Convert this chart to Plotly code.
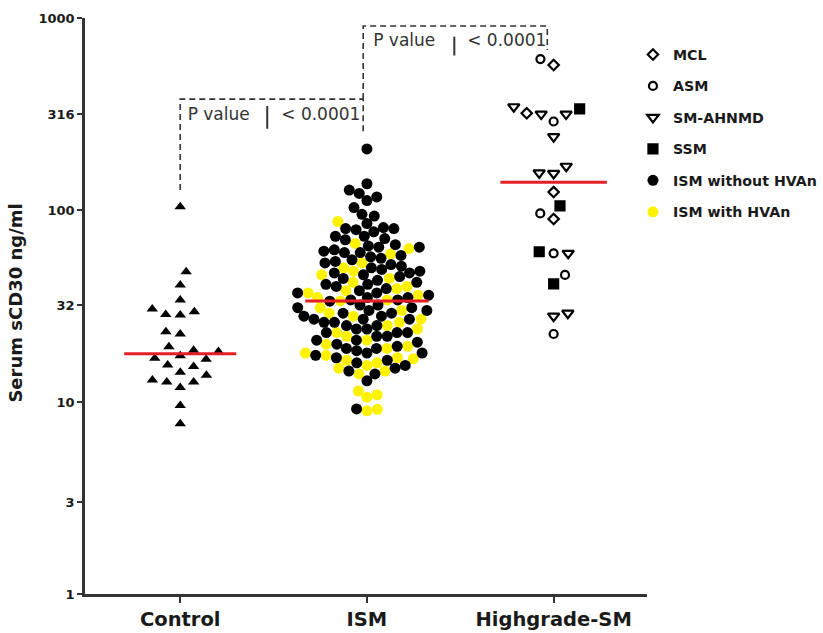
import math
import numpy as np
import plotly.graph_objects as go

# ---------------- data ----------------
categories = ["Control", "ISM", "Highgrade-SM"]

control_vals = [104, 47.7, 40.7, 34, 29.5, 28.4, 28.6, 30.5, 23.2, 22.6, 19.4, 18.3, 18.6,
                16.9, 16.7, 17.4, 15.6, 15.3, 13.8, 14.3, 12.7, 11.9, 12.7, 13.0, 9.6, 7.7]

ism_without_hvan = [208,
                    137, 127, 122, 117, 112, 103, 95, 93, 85,
                    81, 80, 80, 79, 77, 73, 73, 71, 70,
                    66, 65, 64, 64, 62, 61, 60, 60, 58, 57, 56,
                    55, 54, 53, 52, 51, 50, 49, 48, 47, 47, 46, 45, 44,
                    43, 42, 41, 41, 40, 39, 38, 37, 37, 36, 35, 35, 34, 34,
                    33.5, 32, 32, 31, 31, 30, 30, 29, 29, 28, 28, 27, 27, 27,
                    26, 26, 25, 25, 24, 24, 23, 23, 23, 22, 22, 21, 21,
                    20.5, 20, 19.5, 19, 19, 18.5, 18, 18, 17.5, 17,
                    16.5, 16, 15.5, 15, 14.5, 14,
                    12.9, 9.2]

ism_with_hvan = [87, 67, 63, 59, 53, 50, 48, 46, 44, 42, 40, 39, 38, 37, 36, 35, 34,
                 33.6, 31, 30, 29, 28, 27,
                 26, 25, 24, 23, 22, 21,
                 20, 19.5, 19, 18, 17.5, 17, 16.8,
                 16.5, 16, 15.5, 15, 14.5, 14,
                 11.4, 10.9, 10.6, 9.16, 9.0]

hg_mcl = [569, 319, 124, 89.8]
hg_asm = [611, 289, 96, 59.5, 45.9, 22.6]
hg_sm_ahnmd = [316, 345, 316, 241, 169, 155, 156, 59.5, 29, 28]
hg_ssm = [336, 105, 60.6, 41.2]

y_tick_vals = [1, 3, 10, 32, 100, 316, 1000]
y_tick_text = ["1", "3", "10", "32", "100", "316", "1000"]

p_label = "P value"
p_result = "< 0.0001"

# ---------------- layout constants ----------------
W, H = 823, 633
ML, MR, MT, MB = 85, 176, 18, 39
X_RANGE = [0.49, 3.5]
PX_X = (W - ML - MR) / (X_RANGE[1] - X_RANGE[0])
PX_DEC = (H - MT - MB) / 3.0

FONT = "DejaVu Sans"
INK = "#1a1a1a"
RED = "#e41e26"
YELLOW = "#fff200"


def swarm_offsets(vals, d_px, mix=False):
    """Beeswarm layout: returns x offsets (data units) so markers do not overlap."""
    vals = np.asarray(vals, float)
    py = np.log10(vals) * PX_DEC
    if mix:
        # processing order only: break near-ties so that groups interleave
        key = py + np.array([((i * 7) % 5 - 2) * 0.9 for i in range(len(vals))])
    else:
        key = py
    order = np.argsort(key, kind="stable")
    placed = []
    out = np.zeros(len(vals))
    for n, i in enumerate(order):
        y = py[i]
        near = [(x, yy) for x, yy in placed if abs(yy - y) < d_px]
        cands = [0.0]
        for x, yy in near:
            dx = math.sqrt(d_px ** 2 - (yy - y) ** 2)
            cands += [x + dx, x - dx]
        sgn = 1 if n % 2 else -1
        cands.sort(key=lambda c: (round(abs(c), 6), sgn * c))
        for c in cands:
            if all((c - x) ** 2 + (yy - y) ** 2 >= d_px ** 2 - 1e-6 for x, yy in near):
                out[i] = c
                break
        placed.append((out[i], y))
    return out / PX_X


fig = go.Figure()

# ---- Control ----
cx = 1 + swarm_offsets(control_vals, 14.5)
fig.add_trace(go.Scatter(x=cx, y=control_vals, mode="markers", showlegend=False,
                         marker=dict(symbol="triangle-up", size=10, color="#000"),
                         hoverinfo="y"))

# ---- ISM ----
ism_all = ism_without_hvan + ism_with_hvan
ism_off = swarm_offsets(ism_all, 10.5, mix=True)
nb = len(ism_without_hvan)
fig.add_trace(go.Scatter(x=2 + ism_off[nb:], y=ism_with_hvan, mode="markers",
                         name="ISM with HVAn", legendrank=6, legendgroup="g6",
                         marker=dict(symbol="circle", size=11, color=YELLOW)))
fig.add_trace(go.Scatter(x=2 + ism_off[:nb], y=ism_without_hvan, mode="markers",
                         name="ISM without HVAn", legendrank=5, legendgroup="g5",
                         marker=dict(symbol="circle", size=11, color="#000")))

# ---- Highgrade ----
hg_groups = [("MCL", hg_mcl, "diamond-open", 8, 1),
             ("ASM", hg_asm, "circle-open", 8, 2),
             ("SM-AHNMD", hg_sm_ahnmd, "triangle-down-open", 10, 3),
             ("SSM", hg_ssm, "square", 9, 4)]
hg_all = [v for _, vals, _, _, _ in hg_groups for v in vals]
hg_off = swarm_offsets(hg_all, 14.5)
k = 0
for name, vals, sym, sz, rank in hg_groups:
    off = hg_off[k:k + len(vals)]
    k += len(vals)
    fig.add_trace(go.Scatter(x=3 + off, y=vals, mode="markers", name=name,
                             legendrank=rank, legendgroup="g%d" % rank,
                             marker=dict(symbol=sym, size=sz, color="#000",
                                         line=dict(color="#000", width=2.2))))

# ---- medians ----
for center, vals, hw in [(1, control_vals, 0.3), (2, ism_all, 0.33), (3, hg_all, 0.285)]:
    m = float(np.median(vals))
    fig.add_trace(go.Scatter(x=[center - hw, center + hw], y=[m, m], mode="lines",
                             showlegend=False, hoverinfo="skip",
                             line=dict(color=RED, width=3)))

# ---- significance brackets ----
dash_line = dict(color="#333", width=1.6, dash="6px,4px")
brackets = [
    dict(xs=[1, 1, 1.98, 1.98], ys=[127, 378, 378, 252]),
    dict(xs=[1.98, 1.98, 2.966, 2.966], ys=[378, 908, 908, 681]),
]
for b in brackets:
    fig.add_trace(go.Scatter(x=b["xs"], y=b["ys"], mode="lines", showlegend=False,
                             hoverinfo="skip", line=dash_line))

labels = [
    dict(xl=1.206, xb=1.466, xr=1.753, y=309, ybar=[265, 348]),
    dict(xl=2.2, xb=2.468, xr=2.749, y=750, ybar=[638, 800]),
]
for lb in labels:
    fig.add_trace(go.Scatter(x=[lb["xl"], lb["xr"]], y=[lb["y"], lb["y"]], mode="text",
                             text=[p_label, p_result], showlegend=False, hoverinfo="skip",
                             textfont=dict(family=FONT, size=17, color="#333")))
    fig.add_trace(go.Scatter(x=[lb["xb"], lb["xb"]], y=lb["ybar"], mode="lines",
                             showlegend=False, hoverinfo="skip",
                             line=dict(color="#333", width=2)))

fig.add_annotation(text="Serum sCD30 ng/ml", xref="paper", yref="paper", x=0, y=0.505,
                   xanchor="right", yanchor="middle", textangle=-90, xshift=-57,
                   showarrow=False, font=dict(family=FONT, size=18, color=INK, weight="bold"))

fig.update_layout(
    width=W, height=H,
    margin=dict(l=ML, r=MR, t=MT, b=MB, autoexpand=False),
    paper_bgcolor="white", plot_bgcolor="white",
    font=dict(family=FONT, color=INK),
    legend=dict(x=0.975, y=0.964, xanchor="left", yanchor="top",
                font=dict(family=FONT, size=14.2, color=INK, weight="bold"),
                tracegroupgap=10, traceorder="grouped", bgcolor="rgba(0,0,0,0)"),
    xaxis=dict(range=X_RANGE, tickvals=[1, 2, 3], ticktext=categories, automargin=False,
               showline=True, linecolor="#333", linewidth=2.5, showgrid=False,
               zeroline=False, ticks="outside", ticklen=6, tickwidth=2, tickcolor="#333",
               tickfont=dict(family=FONT, size=19.5, color=INK, weight="bold")),
    yaxis=dict(type="log", range=[0, 3], tickvals=y_tick_vals, ticktext=y_tick_text,
               automargin=False,
               showline=True, linecolor="#333", linewidth=2.5, showgrid=False,
               zeroline=False, ticks="outside", ticklen=5, tickwidth=2, tickcolor="#333",
               tickfont=dict(family=FONT, size=13, color=INK, weight="bold")),
)

fig.write_html("out.html", config={"displayModeBar": False},
               post_script="document.body.style.margin='0px';")
